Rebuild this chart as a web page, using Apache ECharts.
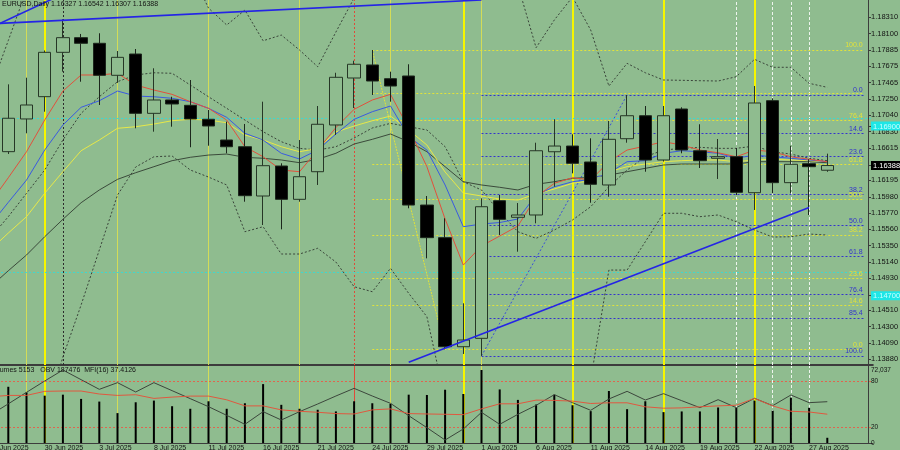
<!DOCTYPE html>
<html><head><meta charset="utf-8">
<script src="https://cdn.jsdelivr.net/npm/echarts@6/dist/echarts.min.js"></script>
<style>html,body{margin:0;padding:0;background:#8fbc8f;}#c{width:900px;height:450px;}</style>
</head><body><div id="c"></div>
<script>
const dates = ['25 Jun 2025','26 Jun 2025','27 Jun 2025','30 Jun 2025','1 Jul 2025','2 Jul 2025','3 Jul 2025','4 Jul 2025','7 Jul 2025','8 Jul 2025','9 Jul 2025','10 Jul 2025','11 Jul 2025','14 Jul 2025','15 Jul 2025','16 Jul 2025','17 Jul 2025','18 Jul 2025','21 Jul 2025','22 Jul 2025','23 Jul 2025','24 Jul 2025','25 Jul 2025','28 Jul 2025','29 Jul 2025','30 Jul 2025','31 Jul 2025','1 Aug 2025','4 Aug 2025','5 Aug 2025','6 Aug 2025','7 Aug 2025','8 Aug 2025','11 Aug 2025','12 Aug 2025','13 Aug 2025','14 Aug 2025','15 Aug 2025','18 Aug 2025','19 Aug 2025','20 Aug 2025','21 Aug 2025','22 Aug 2025','25 Aug 2025','26 Aug 2025','27 Aug 2025','28 Aug 2025'];
const futureSlots = ['', ' '];

const opens  = [1.16100,1.16568,1.16992,1.17281,1.17856,1.18046,1.17973,1.17558,1.17834,1.17065,1.17238,1.17169,1.16988,1.16719,1.16632,1.15993,1.16382,1.15950,1.16308,1.16914,1.17523,1.17692,1.17514,1.17549,1.15876,1.15453,1.14039,1.14148,1.15932,1.15717,1.15747,1.16567,1.16641,1.16434,1.16136,1.16736,1.17034,1.16460,1.17121,1.16580,1.16482,1.16503,1.16036,1.17229,1.16166,1.16412,1.16327];
const closes = [1.16650,1.17001,1.17173,1.17856,1.18046,1.17973,1.17558,1.17791,1.17065,1.17238,1.17186,1.16992,1.16901,1.16632,1.15997,1.16386,1.15950,1.16243,1.16923,1.17532,1.17701,1.17484,1.17419,1.15876,1.15453,1.14039,1.14126,1.15854,1.15691,1.15747,1.16580,1.16641,1.16417,1.16145,1.16728,1.17034,1.16460,1.17034,1.16590,1.16451,1.16503,1.16041,1.17199,1.16166,1.16404,1.16373,1.16388];
const lows   = [1.16000,1.16538,1.16806,1.17086,1.17605,1.17475,1.17173,1.17460,1.16871,1.16827,1.16892,1.16625,1.16645,1.16547,1.15919,1.15617,1.15561,1.15919,1.16136,1.16784,1.17134,1.17303,1.17216,1.15834,1.15185,1.14005,1.13945,1.13920,1.15488,1.15271,1.15639,1.16114,1.16287,1.15906,1.15984,1.16684,1.16308,1.16440,1.16547,1.16356,1.16214,1.16006,1.15812,1.16028,1.16028,1.15747,1.16307];
const highs  = [1.16800,1.17441,1.17527,1.17880,1.18284,1.18094,1.18103,1.17873,1.17899,1.17649,1.17280,1.17497,1.17108,1.16957,1.16927,1.17216,1.16417,1.16719,1.17160,1.17591,1.17747,1.17886,1.17605,1.17701,1.15993,1.15704,1.14602,1.15963,1.16006,1.15902,1.16684,1.16988,1.16793,1.16741,1.16966,1.17303,1.17160,1.17160,1.17143,1.16923,1.16732,1.16619,1.17419,1.17260,1.16645,1.16469,1.16542];

const maRed    = [1.15902,1.16230,1.16567,1.16978,1.17354,1.17562,1.17562,1.17584,1.17432,1.17367,1.17311,1.17216,1.17130,1.16978,1.16632,1.16502,1.16330,1.16308,1.16589,1.16881,1.17117,1.17238,1.17311,1.16871,1.16373,1.15695,1.15098,1.15345,1.15474,1.15604,1.15980,1.16158,1.16230,1.16200,1.16438,1.16589,1.16641,1.16697,1.16654,1.16589,1.16554,1.16502,1.16589,1.16567,1.16502,1.16469,1.16438];
const maBlue   = [1.15617,1.15911,1.16200,1.16589,1.16913,1.17143,1.17228,1.17354,1.17289,1.17280,1.17260,1.17216,1.17130,1.17013,1.16806,1.16719,1.16547,1.16473,1.16589,1.16797,1.16987,1.17086,1.17160,1.16762,1.16589,1.16136,1.15595,1.15630,1.15649,1.15695,1.16006,1.16113,1.16178,1.16209,1.16291,1.16438,1.16451,1.16547,1.16580,1.16567,1.16547,1.16482,1.16524,1.16502,1.16482,1.16460,1.16438];
const maYellow = [1.15293,1.15513,1.15725,1.16028,1.16308,1.16580,1.16719,1.16871,1.16891,1.16926,1.16969,1.16987,1.16978,1.16943,1.16784,1.16719,1.16632,1.16567,1.16611,1.16823,1.16900,1.16969,1.17030,1.16849,1.16654,1.16304,1.16032,1.15993,1.15954,1.15941,1.16019,1.16084,1.16158,1.16191,1.16308,1.16373,1.16408,1.16438,1.16451,1.16460,1.16460,1.16438,1.16460,1.16469,1.16460,1.16451,1.16438];
const maSlow   = [1.14813,1.15024,1.15228,1.15465,1.15691,1.15906,1.16071,1.16209,1.16295,1.16373,1.16451,1.16495,1.16524,1.16537,1.16495,1.16482,1.16460,1.16425,1.16469,1.16547,1.16667,1.16728,1.16797,1.16697,1.16567,1.16373,1.16178,1.16136,1.16106,1.16071,1.16145,1.16178,1.16222,1.16235,1.16265,1.16308,1.16352,1.16395,1.16408,1.16408,1.16408,1.16408,1.16438,1.16438,1.16438,1.16438,1.16425];
const maDotted = [1.15448,1.15725,1.16028,1.16330,1.16719,1.17065,1.17280,1.17475,1.17562,1.17591,1.17584,1.17432,1.17280,1.17130,1.16978,1.16827,1.16697,1.16611,1.16589,1.16632,1.16745,1.16875,1.16935,1.16891,1.16849,1.16632,1.16178,1.16071,1.15785,1.15530,1.15444,1.15552,1.15682,1.15854,1.16113,1.16330,1.16502,1.16589,1.16611,1.16624,1.16611,1.16611,1.16641,1.16567,1.16537,1.16482,1.16451];
const bbUpper  = [1.17367,1.18009,1.18664,1.19053,1.19312,1.19442,1.19442,1.19377,1.19312,1.19182,1.19053,1.18923,1.18430,1.18210,1.18404,1.18006,1.18080,1.17886,1.17669,1.18119,1.18560,1.18923,1.19053,1.19182,1.19182,1.19117,1.19053,1.18988,1.18923,1.18728,1.17916,1.18275,1.18573,1.18145,1.17419,1.17713,1.17591,1.17497,1.17493,1.17488,1.17484,1.17540,1.17765,1.17662,1.17662,1.17454,1.17402];
const bbLower  = [1.11792,1.12311,1.12570,1.13089,1.13906,1.14580,1.15293,1.16006,1.16369,1.16502,1.16512,1.16330,1.16239,1.16136,1.15530,1.15595,1.15241,1.15241,1.15315,1.15137,1.14817,1.14752,1.15056,1.14731,1.14428,1.13348,1.12829,1.12440,1.12311,1.12311,1.12440,1.12700,1.13089,1.13607,1.15033,1.15033,1.15400,1.15769,1.15769,1.15725,1.15747,1.15660,1.15552,1.15461,1.15465,1.15500,1.15487];

const volumes = [50000,55490,49940,46730,47700,43520,40890,29500,40200,41860,36310,33780,41180,33780,39230,58120,37680,33780,32810,31150,41180,39230,38650,47700,47410,52570,48380,72037,52860,42540,37970,47700,37290,31440,51300,33390,41180,30470,31150,31150,35050,34750,41860,31830,44780,34750,5153];
const obv = [129000,178216,228166,277396,325181,283186,241196,270156,229616,270156,235406,200646,165896,128256,89156,144176,107976,144176,177486,212236,245546,212236,180386,126806,74676,21096,68886,141286,89156,132596,171696,218026,183276,149976,199206,232506,194861,222366,191966,161556,196306,161556,202096,170246,216576,183276,187476];
const mfi = [60.0,61.8,61.8,67.1,67.5,67.5,63.6,61.8,62.7,57.9,59.6,60.9,60.9,56.1,48.2,48.2,43.0,41.2,39.9,38.2,37.7,43.0,44.3,38.2,37.7,37.3,36.8,44.3,50.9,50.9,55.7,55.3,54.4,51.3,52.2,52.2,47.0,45.2,45.6,47.0,48.2,49.1,57.9,48.2,41.2,40.3,37.4126];

const priceTicks = [1.18310,1.18100,1.17885,1.17675,1.17465,1.17250,1.17040,1.16830,1.16615,1.16195,1.15980,1.15770,1.15560,1.15350,1.15140,1.14930,1.14510,1.14300,1.14090,1.13880];
const roundLevels = [1.16900, 1.14700];
const mfiTicks = [0, 20, 80];
const mfiBands = [80, 20];
const volumeTick = [72037];

const fibLevels = [0, 14.6, 23.6, 38.2, 50, 61.8, 76.4, 85.4, 100];
const fibYellowStart = '24 Jul 2025', fibYellowEnd = '30 Jul 2025', fibYellow100 = 1.17886, fibYellow0 = 1.14005;
const fibBlueStart = '1 Aug 2025', fibBlueEnd = '13 Aug 2025', fibBlue100 = 1.13920, fibBlue0 = 1.17303;

const trendLines = [
  [['25 Jun 2025', 1.18225], ['1 Aug 2025', 1.18535]],
  [['25 Jun 2025', 1.18172], ['1 Jul 2025', 1.18612]],
  [['28 Jul 2025', 1.13839], ['27 Aug 2025', 1.15845]]
];

const paleYellowDates = ['27 Jun 2025','4 Jul 2025','11 Jul 2025','18 Jul 2025','25 Jul 2025','1 Aug 2025'];
const brightYellowDates = ['30 Jun 2025','31 Jul 2025','8 Aug 2025','15 Aug 2025','22 Aug 2025'];
const whiteDates = ['21 Aug 2025','25 Aug 2025','26 Aug 2025','27 Aug 2025'];
const redDates = ['23 Jul 2025'];
const darkDates = ['1 Jul 2025'];

// ---------- build ----------
const FONT = '"Liberation Sans", Arial, sans-serif';
const categories = dates.concat(futureSlots);
const lastCat = categories.length - 1;
const last = dates.length - 1;
const idx = d => dates.indexOf(d);
const nulls = categories.map(() => null);
const candles = opens.map((o, i) => [o, closes[i], lows[i], highs[i]]);
const f5 = v => v.toFixed(5);

const titleText = 'EURUSD,Daily ' + [opens[last], highs[last], lows[last], closes[last]].map(f5).join(' ');
const subText = 'Volumes ' + volumes[last] + '   OBV ' + obv[last] + '  MFI(16) ' + mfi[last];

function verticals(lower) {
  const out = [];
  paleYellowDates.forEach(d => out.push({xAxis: idx(d), lineStyle: {color: '#d3dc58', width: 1, type: 'solid'}}));
  brightYellowDates.forEach(d => out.push({xAxis: idx(d), lineStyle: {color: '#f6f600', width: 2, type: 'solid'}}));
  whiteDates.forEach(d => out.push({xAxis: idx(d), lineStyle: {color: '#eef5ee', width: 1, type: [3, 2]}}));
  redDates.forEach(d => out.push({xAxis: idx(d), lineStyle: {color: '#e04a3a', width: 1, type: lower ? 'solid' : [2, 2]}}));
  if (!lower) darkDates.forEach(d => out.push({xAxis: idx(d), lineStyle: {color: '#2c2c2c', width: 1, type: [2, 2]}}));
  return out;
}

const levelLines = verticals(false);
roundLevels.forEach(p => levelLines.push({yAxis: p, lineStyle: {color: '#3fd8cf', width: 1, type: [2, 2]}}));

function addFib(start, p0, p100, color, hidden) {
  fibLevels.forEach(l => {
    const p = p0 + (p100 - p0) * l / 100;
    levelLines.push([
      {coord: [idx(start), p], lineStyle: {color: color, width: 1, type: [2, 2]},
       label: {show: hidden.indexOf(l) < 0, position: 'insideEndTop', formatter: l.toFixed(1), color: color, fontSize: 7, fontFamily: FONT, distance: 1}},
      {coord: [lastCat, p]}
    ]);
  });
}
addFib(fibYellowStart, fibYellow0, fibYellow100, '#e2e23a', [85.4]);
addFib(fibBlueStart, fibBlue0, fibBlue100, '#3434cc', []);
levelLines.push([{coord: [idx(fibYellowStart), fibYellow100], lineStyle: {color: '#e2e23a', width: 1, type: [2, 1]}}, {coord: [idx(fibYellowEnd), fibYellow0]}]);
levelLines.push([{coord: [idx(fibBlueStart), fibBlue100], lineStyle: {color: '#3a50d8', width: 1, type: [2, 2]}}, {coord: [idx(fibBlueEnd), fibBlue0]}]);

const trendData = trendLines.map(([a, b]) => [
  {coord: [idx(a[0]), a[1]], lineStyle: {color: '#2424e6', width: 1.6, type: 'solid'}},
  {coord: [idx(b[0]), b[1]]}
]);

const lowerLines = verticals(true);
mfiBands.forEach(v => lowerLines.push({yAxis: v, lineStyle: {color: '#e0644e', width: 1, type: [2, 2]}}));

const allTicks = priceTicks.concat(roundLevels, [closes[last]]);
const near = (a, b) => Math.abs(a - b) < 1e-7;

function lineSeries(name, data, color, type, xi, yi, z) {
  return {name, type: 'line', data, xAxisIndex: xi, yAxisIndex: yi, z: z, symbol: 'none', showSymbol: false,
          silent: true, clip: true, lineStyle: {color, width: 1, type}};
}

const GL = -19, GW = 891.8, OFF = -4.8;
const option = {
  animation: false,
  backgroundColor: '#8fbc8f',
  textStyle: {fontFamily: FONT},
  title: [
    {text: titleText, left: 2, top: 0, padding: 0, textStyle: {fontSize: 7, fontWeight: 'normal', color: '#141414', fontFamily: FONT, lineHeight: 8}},
    {text: subText, left: -10, top: 366, padding: 0, textStyle: {fontSize: 7, fontWeight: 'normal', color: '#141414', fontFamily: FONT, lineHeight: 8}}
  ],
  grid: [
    {left: GL, top: -10, width: GW, height: 375, containLabel: false, outerBoundsMode: 'none'},
    {left: GL, top: 366, width: GW, height: 77, containLabel: false, outerBoundsMode: 'none'}
  ],
  xAxis: [
    {type: 'category', gridIndex: 0, data: categories, boundaryGap: true,
     axisLine: {lineStyle: {color: '#3c3c3c', width: 2}}, axisTick: {show: false}, axisLabel: {show: false}, splitLine: {show: false}},
    {type: 'category', gridIndex: 1, data: categories, boundaryGap: true,
     axisLine: {lineStyle: {color: '#3c3c3c', width: 1}}, axisTick: {show: false}, splitLine: {show: false},
     axisLabel: {interval: 2, align: 'left', fontSize: 7, color: '#141414', margin: 2, fontFamily: FONT}}
  ],
  yAxis: [
    {type: 'value', gridIndex: 0, position: 'right', offset: OFF, min: 1.13802, max: 1.18664,
     axisLine: {show: true, lineStyle: {color: '#3c3c3c'}}, splitLine: {show: false},
     axisTick: {show: true, length: 3, customValues: allTicks, lineStyle: {color: '#3c3c3c'}},
     axisLabel: {customValues: allTicks, fontSize: 7.5, color: '#141414', margin: 3, fontFamily: FONT,
       formatter: v => {
         const s = f5(v);
         if (near(v, closes[last])) return '{cur|' + s + '}';
         if (roundLevels.some(r => near(r, v))) return '{cy|' + s + '}';
         return s;
       },
       rich: {
         cur: {backgroundColor: '#000', color: '#ffffff', padding: [1, 4, 0, 2], fontSize: 7.5, fontFamily: FONT},
         cy: {backgroundColor: '#1ee6e6', color: '#c8ffff', padding: [1, 4, 0, 2], fontSize: 7.5, fontFamily: FONT}
       }}},
    {type: 'value', gridIndex: 1, position: 'right', offset: OFF, min: 0, max: 100,
     axisLine: {show: true, lineStyle: {color: '#3c3c3c'}}, splitLine: {show: false},
     axisTick: {show: true, length: 3, customValues: mfiTicks, lineStyle: {color: '#3c3c3c'}},
     axisLabel: {customValues: mfiTicks, fontSize: 6.5, color: '#141414', margin: 3, fontFamily: FONT}},
    {type: 'value', gridIndex: 1, position: 'right', offset: OFF, min: 0, max: 76000,
     axisLine: {show: false}, splitLine: {show: false}, axisTick: {show: false},
     axisLabel: {customValues: volumeTick, fontSize: 6.5, color: '#141414', margin: 3, fontFamily: FONT}},
    {type: 'value', gridIndex: 1, position: 'right', min: 8069, max: 342557, show: false}
  ],
  series: [
    {name: 'levels', type: 'line', xAxisIndex: 0, yAxisIndex: 0, data: nulls, z: 1, silent: true, symbol: 'none',
     markLine: {z: 1, silent: true, symbol: ['none', 'none'], animation: false, label: {show: false}, data: levelLines}},
    lineSeries('bbUpper', bbUpper, '#3a443a', [2, 2], 0, 0, 2),
    lineSeries('bbLower', bbLower, '#3a443a', [2, 2], 0, 0, 2),
    lineSeries('maDotted', maDotted, '#3a443a', [2, 2], 0, 0, 2),
    lineSeries('maSlow', maSlow, '#3b4a3b', 'solid', 0, 0, 2),
    lineSeries('maYellow', maYellow, '#e8e848', 'solid', 0, 0, 2),
    lineSeries('maBlue', maBlue, '#3a5ae0', 'solid', 0, 0, 2),
    lineSeries('maRed', maRed, '#e2503c', 'solid', 0, 0, 2),
    {name: 'EURUSD', type: 'candlestick', xAxisIndex: 0, yAxisIndex: 0, data: candles, z: 3, barWidth: 13, silent: true,
     itemStyle: {color: '#8fbc8f', color0: '#000000', borderColor: '#263626', borderColor0: '#1c261c', borderWidth: 1}},
    {name: 'trend', type: 'line', xAxisIndex: 0, yAxisIndex: 0, data: nulls, z: 4, silent: true, symbol: 'none',
     markLine: {z: 4, silent: true, symbol: ['none', 'none'], animation: false, label: {show: false}, data: trendData}},
    {name: 'lowerLevels', type: 'line', xAxisIndex: 1, yAxisIndex: 1, data: nulls, z: 1, silent: true, symbol: 'none',
     markLine: {z: 1, silent: true, symbol: ['none', 'none'], animation: false, label: {show: false}, data: lowerLines}},
    {name: 'Volumes', type: 'bar', xAxisIndex: 1, yAxisIndex: 2, data: volumes, barWidth: 2, z: 2, silent: true,
     itemStyle: {color: '#000000'}},
    lineSeries('OBV', obv, '#3c463c', 'solid', 1, 3, 3),
    lineSeries('MFI', mfi, '#e0583f', 'solid', 1, 1, 3)
  ]
};
const chart = echarts.init(document.getElementById('c'), null, {width: 900, height: 450});
chart.setOption(option);
</script>
</body></html>
